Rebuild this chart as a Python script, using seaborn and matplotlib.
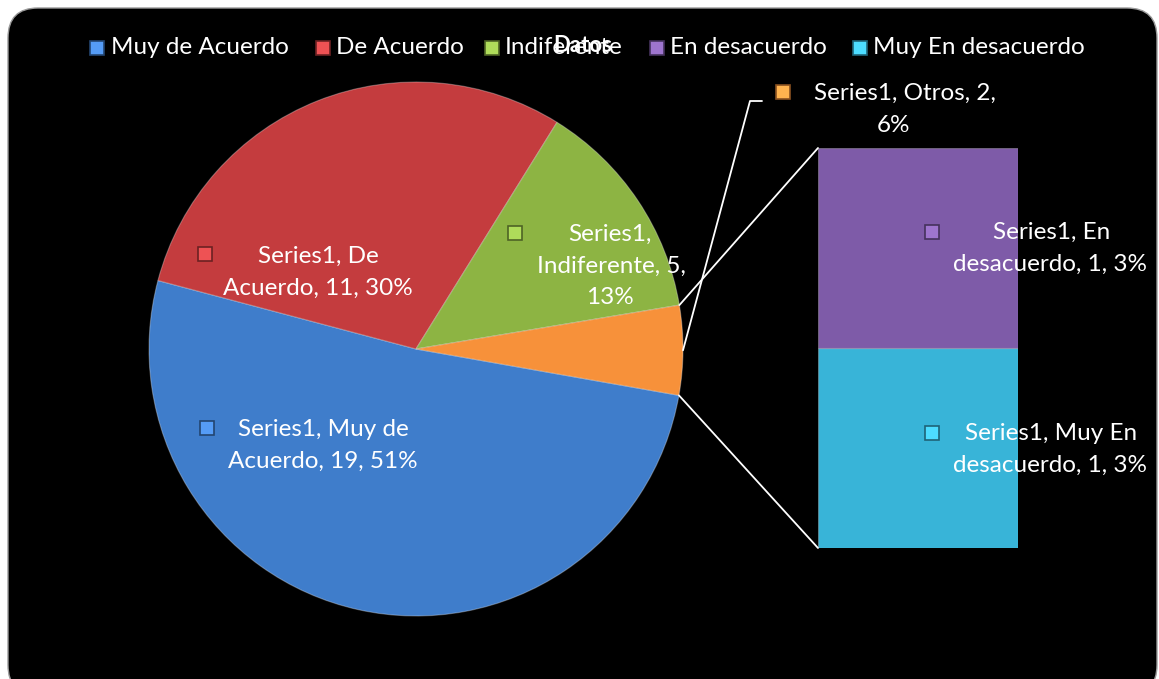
import numpy as np
import matplotlib
matplotlib.use("Agg")
import matplotlib.pyplot as plt
from matplotlib.patches import FancyBboxPatch, Rectangle
import seaborn as sns

# ---- data ----
series_name = "Series1"
categories = ["Muy de Acuerdo", "De Acuerdo", "Indiferente", "En desacuerdo", "Muy En desacuerdo"]
values = [19, 11, 5, 1, 1]
percents = ["51%", "30%", "13%", "3%", "3%"]
other_name = "Otros"
other_value = 2
other_percent = "6%"
title = "Datos"
colors = ["#3F7DCB", "#C43C3E", "#8DB443", "#F7913A", "#7E5BA8", "#38B4D8"]

sns.set_theme(style="white")
plt.rcParams['font.family'] = ['Lato', 'DejaVu Sans']

W, H = 1159, 679
fig = plt.figure(figsize=(W / 100, H / 100), dpi=100)
fig.patch.set_facecolor("white")

def Y(p):
    return H - p

# background axes
axbg = fig.add_axes([0, 0, 1, 1], zorder=0)
axbg.set_xlim(0, W)
axbg.set_ylim(0, H)
axbg.axis("off")
bg = FancyBboxPatch((8, Y(695)), 1149, 695 - 8, boxstyle="round,pad=0,rounding_size=30",
                    facecolor="black", edgecolor="#9a9a9a", linewidth=1.0, zorder=0)
axbg.add_patch(bg)

pal = sns.color_palette(colors)

# ---- bar of the "Otros" slice ----
bx0, bx1, btop, bbot = 818, 1018, 148, 548
ax2 = fig.add_axes([bx0 / W, Y(bbot) / H, (bx1 - bx0) / W, (bbot - btop) / H], zorder=1)
ax2.bar([0], [values[4]], width=1.0, color=pal[5], edgecolor=(1, 1, 1, 0.25), linewidth=0.8)
ax2.bar([0], [values[3]], bottom=[values[4]], width=1.0, color=pal[4],
        edgecolor=(1, 1, 1, 0.25), linewidth=0.8)
ax2.set_xlim(-0.5, 0.5)
ax2.set_ylim(0, values[3] + values[4])
ax2.axis("off")
ax2.patch.set_alpha(0)

# ---- main axes with pie and texts ----
ax = fig.add_axes([0, 0, 1, 1], zorder=2)
ax.patch.set_alpha(0)
pie_vals = values[:3] + [other_value]
pie_cols = [pal[0], pal[1], pal[2], pal[3]]
cx, cy, R = 416, Y(349), 267
wedges, _ = ax.pie(pie_vals, colors=pie_cols, startangle=-10, counterclock=False,
                   center=(cx, cy), radius=R, frame=False,
                   wedgeprops=dict(edgecolor=(1, 1, 1, 0.3), linewidth=0.8))
for w in wedges:
    w.set_zorder(2)
ax.set_xlim(0, W)
ax.set_ylim(0, H)
ax.set_aspect("auto")
ax.axis("off")

# connector lines from orange slice to bar
ow = wedges[3]
t_top = np.deg2rad(ow.theta2)
t_bot = np.deg2rad(ow.theta1)
p_top = (cx + R * np.cos(t_top), cy + R * np.sin(t_top))
p_bot = (cx + R * np.cos(t_bot), cy + R * np.sin(t_bot))
ax.plot([p_top[0], bx0], [p_top[1], Y(btop)], color="white", lw=1.3, zorder=3)
ax.plot([p_bot[0], bx0], [p_bot[1], Y(bbot)], color="white", lw=1.3, zorder=3)

# leader line for Otros label
tmid = np.deg2rad((ow.theta1 + ow.theta2) / 2)
pm = (cx + R * np.cos(tmid), cy + R * np.sin(tmid))
ax.plot([pm[0], 750, 762], [pm[1], Y(101), Y(101)], color="white", lw=1.3, zorder=3)

FS = 17.5

def square(x, y, col, s=14):
    c = np.array(col)
    light = tuple(np.clip(c * 1.15 + 0.05, 0, 1))
    dark = tuple(c * 0.55)
    ax.add_patch(Rectangle((x - s / 2, Y(y) - s / 2), s, s, facecolor=light,
                           edgecolor=dark, linewidth=1.2, zorder=4))

def label(lines, centers, col, sq):
    for (x, y), t in zip(centers, lines):
        ax.text(x, Y(y), t, color="white", fontsize=FS, ha="center", va="center", zorder=5)
    square(sq[0], sq[1], col)

label([f"{series_name}, De", f"Acuerdo, {values[1]}, {percents[1]}"],
      [(318, 256), (318, 288)], pal[1], (205, 254))
label([f"{series_name},", f"{categories[2]}, {values[2]},", percents[2]],
      [(610, 234), (611, 266), (610, 298)], pal[2], (515, 233))
label([f"{series_name}, Muy de", f"Acuerdo, {values[0]}, {percents[0]}"],
      [(323, 429), (323, 461)], pal[0], (207, 428))
label([f"{series_name}, {other_name}, {other_value},", other_percent],
      [(905, 93), (893, 125)], pal[3], (783, 92))
label([f"{series_name}, En", f"desacuerdo, {values[3]}, {percents[3]}"],
      [(1052, 232), (1050, 264)], pal[4], (932, 232))
label([f"{series_name}, Muy En", f"desacuerdo, {values[4]}, {percents[4]}"],
      [(1051, 433), (1050, 465)], pal[5], (932, 433))

# legend (manual, top)
leg_sq_x = [97, 323, 492, 657, 860]
leg_tx_x = [111, 336, 505, 670, 873]
leg_cols = [pal[0], pal[1], pal[2], pal[4], pal[5]]
for sx, tx, c, name in zip(leg_sq_x, leg_tx_x, leg_cols, categories):
    square(sx, 48, c, s=14)
    ax.text(tx, Y(48), name, color="white", fontsize=FS, ha="left", va="center", zorder=5)

ax.text(583, Y(45), title, color="white", fontsize=16, fontweight="bold",
        ha="center", va="center", zorder=6)

fig.savefig("out.png", dpi=100, facecolor=fig.get_facecolor())
